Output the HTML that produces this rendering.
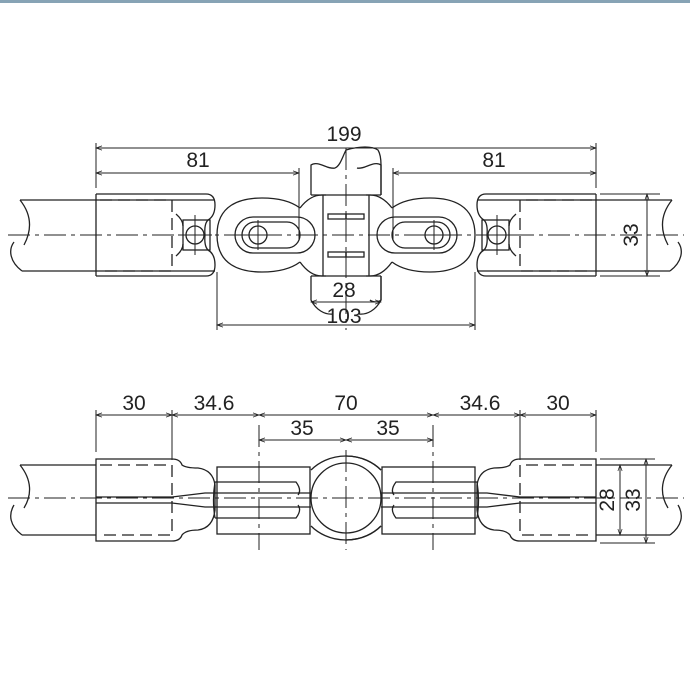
<!DOCTYPE html>
<html><head><meta charset="utf-8"><style>
html,body{margin:0;padding:0;background:#fff;}
svg{display:block;}
text{font-family:"Liberation Sans",Arial,sans-serif;font-size:21px;fill:#222;}
</style></head><body>
<svg width="690" height="689" viewBox="0 0 690 689" xmlns="http://www.w3.org/2000/svg">
<defs>
<marker id="a" viewBox="0 0 10 10" refX="10" refY="5" markerWidth="8" markerHeight="6" orient="auto-start-reverse" markerUnits="userSpaceOnUse"><path d="M0,1.5 L10,5 L0,8.5" fill="none" stroke="#222" stroke-width="1.2"/></marker>
<g id="topL" fill="none" stroke="#222" stroke-width="1.3">
  <!-- pipe -->
  <path d="M20,200 H215 M22,271 H215"/>
  <path d="M20,200 C32,215 32,230 24,245 M22,271 C10,262 8,250 14,242"/>
  <!-- sleeve -->
  <path d="M96,194 H206 Q215,194 215,205 Q215,216 208,220 M96,276 H206 Q215,276 215,265 Q215,254 208,250 M96,194 V276"/>
  <path d="M208,220 Q204,224 205,235 Q204,246 208,250" />
  <path d="M100,200 H172 V271 H100" stroke-dasharray="12,6"/>
  <rect x="183" y="220" width="27" height="30"/>
  <circle cx="195" cy="235" r="9"/>
  <path d="M176,214 Q183,220 183,226 M176,256 Q183,250 183,244"/>
  <!-- lug -->
  <path d="M217,235 C217,205 240,198 262,198 C280,198 292,202 300,208 M217,235 C217,265 240,272 262,272 C280,272 292,268 300,262"/>
  <path d="M300,208 Q310,195 322,195 H326 M300,262 Q310,276 322,276 H326"/>
  <rect x="235" y="217" width="80" height="36" rx="18"/>
  <rect x="242" y="222" width="58" height="26" rx="13"/>
  <circle cx="258" cy="235" r="9"/>
  <!-- center block half -->
  <path d="M323,195 V276 M311,195 H346 M311,276 H346 M311,195 V165 C318,160 328,170 335,168"/>
  <path d="M311,276 V300 C316,310 325,315 333,314"/>
  <rect x="328" y="214" width="18" height="5"/>
  <rect x="328" y="252" width="18" height="5"/>
</g>
<g id="botL" fill="none" stroke="#222" stroke-width="1.3">
  <path d="M20,465 H96 M22,535 H96"/>
  <path d="M20,465 C32,480 32,495 24,508 M22,535 C10,526 8,515 14,505"/>
  <path d="M96,459 H172 Q180,459 182,465 Q186,468 198,468 Q213,470 215,485 V510 Q213,528 198,530 Q186,530 182,535 Q180,541 172,541 H96 Z"/>
  <path d="M100,465 H172 V535 H100" stroke-dasharray="12,6"/>
  <path d="M96,497 H172 L205,493 L300,493 M96,503 H172 L205,507 L300,507"/>
  <rect x="217" y="467" width="93" height="67"/>
  <path d="M215,482 H296 Q302,490 298,495 M215,518 H296 Q302,510 298,505 M215,482 Q212,500 215,518"/>
  <path d="M298,493 H311 M298,507 H311"/>
  <path d="M346,456 C330,456 318,463 311,470 M346,540 C330,540 318,533 311,526"/>
</g>
</defs>
<rect x="0" y="0" width="690" height="3" fill="#87a3b5"/>
<use href="#topL"/>
<use href="#topL" transform="translate(692,0) scale(-1,1)"/>
<use href="#botL"/>
<use href="#botL" transform="translate(692,0) scale(-1,1)"/>
<g fill="none" stroke="#222" stroke-width="1.3">
  <path d="M335,168 C340,166 342,158 346,150 M346,150 C360,146 372,146 378,150 Q381,155 381,165 V195 M381,276 V300 C378,303 372,302 370,300"/>
  <circle cx="346" cy="498" r="35"/>
  <path d="M346,456 C362,456 374,463 381,470 M346,540 C362,540 374,533 381,526"/>
</g>
<!-- centerlines -->
<g stroke="#222" stroke-width="1" stroke-dasharray="22,5,4,5" fill="none">
  <path d="M8,235 H684"/>
  <path d="M8,498 H684"/>
  <path d="M346,148 V330"/>
  <path d="M346,450 V550"/>
  <path d="M259,425 V550"/>
  <path d="M433,425 V550"/>
</g>
<g stroke="#222" stroke-width="1" fill="none">
  <path d="M195,215 V255 M178,235 H212 M258,220 V250 M242,235 H274"/>
  <path d="M497,215 V255 M480,235 H514 M434,220 V250 M418,235 H450"/>
</g>
<!-- dimensions top -->
<g stroke="#222" stroke-width="1" fill="none">
  <path d="M96,143 V188 M596,143 V188"/>
  <path d="M96,148 H596" marker-start="url(#a)" marker-end="url(#a)"/>
  <path d="M96,173 H299" marker-start="url(#a)" marker-end="url(#a)"/>
  <path d="M299,168 V240 M393,168 V240"/>
  <path d="M393,173 H596" marker-start="url(#a)" marker-end="url(#a)"/>
  <path d="M600,194 H660 M600,276 H660"/>
  <path d="M647,194 V276" marker-start="url(#a)" marker-end="url(#a)"/>
  <path d="M311,302 H381" marker-start="url(#a)" marker-end="url(#a)"/>
  <path d="M217,272 V330 M475,272 V330"/>
  <path d="M217,325 H475" marker-start="url(#a)" marker-end="url(#a)"/>
</g>
<text x="344" y="141" text-anchor="middle">199</text>
<text x="198" y="167" text-anchor="middle">81</text>
<text x="494" y="167" text-anchor="middle">81</text>
<text x="344" y="297" text-anchor="middle">28</text>
<text x="344" y="323" text-anchor="middle">103</text>
<text transform="translate(638,235) rotate(-90)" text-anchor="middle">33</text>
<!-- dimensions bottom -->
<g stroke="#222" stroke-width="1" fill="none">
  <path d="M96,410 V452 M172,410 V460 M520,410 V460 M596,410 V452"/>
  <path d="M96,415 H172" marker-start="url(#a)" marker-end="url(#a)"/>
  <path d="M172,415 H259" marker-start="url(#a)" marker-end="url(#a)"/>
  <path d="M259,415 H433" marker-start="url(#a)" marker-end="url(#a)"/>
  <path d="M433,415 H520" marker-start="url(#a)" marker-end="url(#a)"/>
  <path d="M520,415 H596" marker-start="url(#a)" marker-end="url(#a)"/>
  <path d="M259,440 H346" marker-start="url(#a)" marker-end="url(#a)"/>
  <path d="M346,440 H433" marker-start="url(#a)" marker-end="url(#a)"/>
  <path d="M600,459 H655 M600,543 H655"/>
  <path d="M620,465 V535" marker-start="url(#a)" marker-end="url(#a)"/>
  <path d="M646,459 V543" marker-start="url(#a)" marker-end="url(#a)"/>
</g>
<text x="134" y="410" text-anchor="middle">30</text>
<text x="214" y="410" text-anchor="middle">34.6</text>
<text x="346" y="410" text-anchor="middle">70</text>
<text x="480" y="410" text-anchor="middle">34.6</text>
<text x="558" y="410" text-anchor="middle">30</text>
<text x="302" y="435" text-anchor="middle">35</text>
<text x="388" y="435" text-anchor="middle">35</text>
<text transform="translate(614,500) rotate(-90)" text-anchor="middle">28</text>
<text transform="translate(640,500) rotate(-90)" text-anchor="middle">33</text>
</svg>
</body></html>
